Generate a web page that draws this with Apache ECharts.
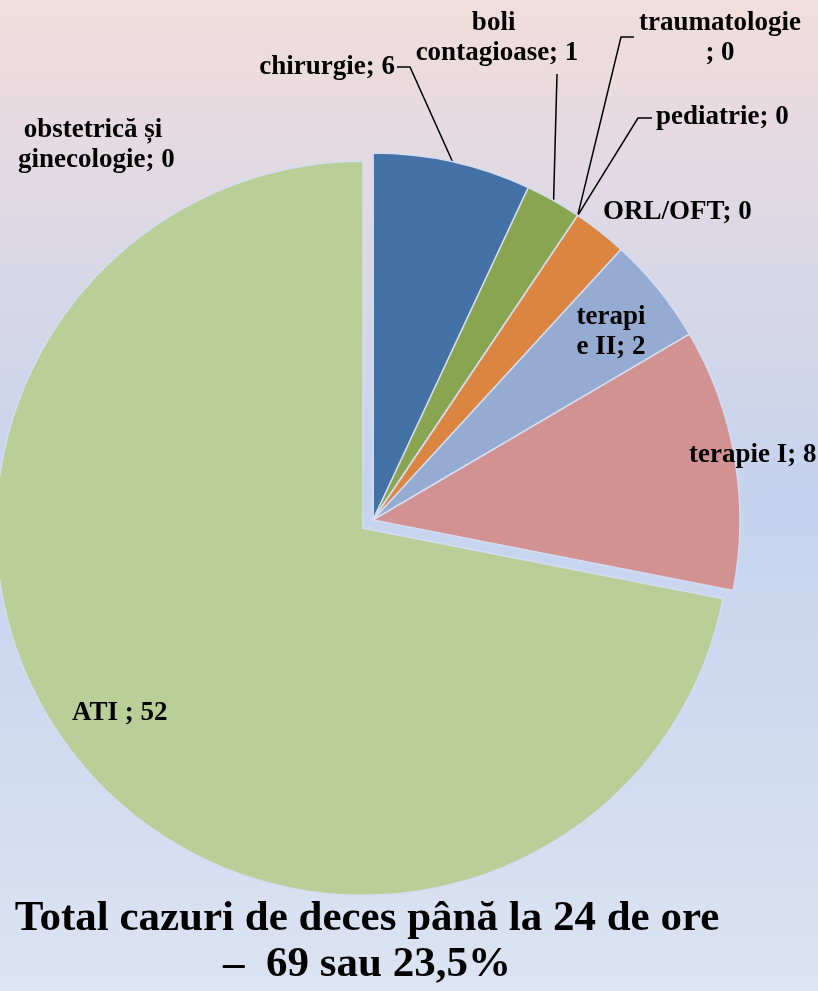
<!DOCTYPE html>
<html>
<head>
<meta charset="utf-8">
<title>Total cazuri de deces</title>
<script src="https://cdn.jsdelivr.net/npm/echarts@6/dist/echarts.min.js"></script>
<style>
    html, body { margin: 0; padding: 0; }
    #chart { width: 818px; height: 991px; }
</style>
</head>
<body>
<div id="chart"></div>
<script>
// categories, clockwise from 12 o'clock
const categories = ['chirurgie', 'boli contagioase', 'traumatologie', 'pediatrie', 'ORL/OFT', 'terapie II', 'terapie I', 'ATI ', 'obstetrică și ginecologie'];
// slice sizes as drawn in the picture
const sliceValues = [4.8, 1.7, 0, 0, 1.65, 3.27, 7.95, 49.63, 0];
// numbers printed in the data labels
const labelCounts = [6, 1, 0, 0, 0, 2, 8, 52, 0];
const sliceColors = ['#4472A7', '#8AA54F', '#7E62A1', '#4BABC6', '#DC8540', '#96ABD1', '#D39292', '#BACE97', '#C0504D'];
const titleLines = ['Total cazuri de deces până la 24 de ore', '–  69 sau 23,5%'];

const explodedIndex = 7;   // ATI is pulled out of the pie
const explodeDistance = 13;

// where each label sits, and the bend of its leader line
const labelSpots = [
    { x: 395, y: 67, align: 'right', bend: [[410, 67], [397, 67]] },
    { x: 497, y: 38, align: 'center', width: 175, overflow: 'break', bend: [[557, 74]] },
    { x: 720, y: 38, align: 'center', width: 165, overflow: 'breakAll', bend: [[621, 37], [634, 37]] },
    { x: 656, y: 117, align: 'left', bend: [[638, 118], [652, 118]] },
    { x: 603, y: 212, align: 'left' },
    { x: 611, y: 332, align: 'center', width: 72, overflow: 'breakAll' },
    { x: 689, y: 455, align: 'left' },
    { x: 72, y: 713, align: 'left' },
    { x: 93, y: 145, align: 'center', width: 170, overflow: 'break' }
];

const labelFont = {
    fontFamily: 'Liberation Serif',
    fontWeight: 'bold',
    fontSize: 27,
    lineHeight: 30,
    color: '#000'
};

const pieCenter = [373, 520];
const pieRadius = 367;

// direction of the exploded slice (middle of its arc, clockwise from 12 o'clock)
const total = sliceValues.reduce((s, v) => s + v, 0);
const before = sliceValues.slice(0, explodedIndex).reduce((s, v) => s + v, 0);
const midAngle = (before + sliceValues[explodedIndex] / 2) / total * Math.PI * 2;
const explodedCenter = [
    pieCenter[0] + Math.sin(midAngle) * explodeDistance,
    pieCenter[1] - Math.cos(midAngle) * explodeDistance
];

const chart = echarts.init(document.getElementById('chart'));

// build one pie's data; only the slices in "keep" are painted and labelled
const buildData = (keep) => categories.map((name, i) => {
    const spot = labelSpots[i];
    const shown = keep(i);
    const item = {
        name: name,
        value: sliceValues[i],
        itemStyle: shown
            ? { color: sliceColors[i] }
            : { color: 'rgba(0,0,0,0)', borderWidth: 0 },
        label: Object.assign({}, labelFont, {
            show: shown,
            formatter: () => `${name}; ${labelCounts[i]}`,
            align: spot.align
        }),
        labelLine: { show: shown && !!spot.bend }
    };
    if (spot.width) {
        item.label.width = spot.width;
        item.label.overflow = spot.overflow;
    }
    return item;
});

const placeLabel = function (params) {
    const spot = labelSpots[params.dataIndex];
    const out = {
        x: spot.x,
        y: spot.y,
        align: spot.align,
        verticalAlign: 'middle'
    };
    if (spot.bend && params.labelLinePoints) {
        out.labelLinePoints = [params.labelLinePoints[0]].concat(spot.bend);
    }
    return out;
};

const baseSeries = {
    type: 'pie',
    radius: pieRadius,
    startAngle: 90,
    clockwise: true,
    minAngle: 0,
    avoidLabelOverlap: false,
    silent: true,
    itemStyle: {
        borderColor: '#D3DCF1',
        borderWidth: 1.5
    },
    label: { position: 'outside' },
    labelLine: {
        length: 10,
        length2: 10,
        smooth: false,
        lineStyle: { color: '#000', width: 1.5 }
    },
    labelLayout: placeLabel
};

const option = {
    animation: false,
    backgroundColor: {
        type: 'linear', x: 0, y: 0, x2: 0, y2: 1,
        colorStops: [
            { offset: 0, color: '#F1DDDC' },
            { offset: 0.5, color: '#C5D3EE' },
            { offset: 1, color: '#DCE3F2' }
        ]
    },
    graphic: [
        {
            type: 'text',
            x: 367,
            y: 942,
            style: {
                text: titleLines.join('\n'),
                align: 'center',
                verticalAlign: 'middle',
                fontFamily: 'Liberation Serif',
                fontWeight: 'bold',
                fontSize: 43,
                lineHeight: 46,
                fill: '#000'
            }
        }
    ],
    series: [
        Object.assign({}, baseSeries, {
            name: 'exploded',
            center: explodedCenter,
            data: buildData(i => i === explodedIndex)
        }),
        Object.assign({}, baseSeries, {
            name: 'rest',
            center: pieCenter,
            data: buildData(i => i !== explodedIndex)
        })
    ]
};

chart.setOption(option);
</script>
</body>
</html>
